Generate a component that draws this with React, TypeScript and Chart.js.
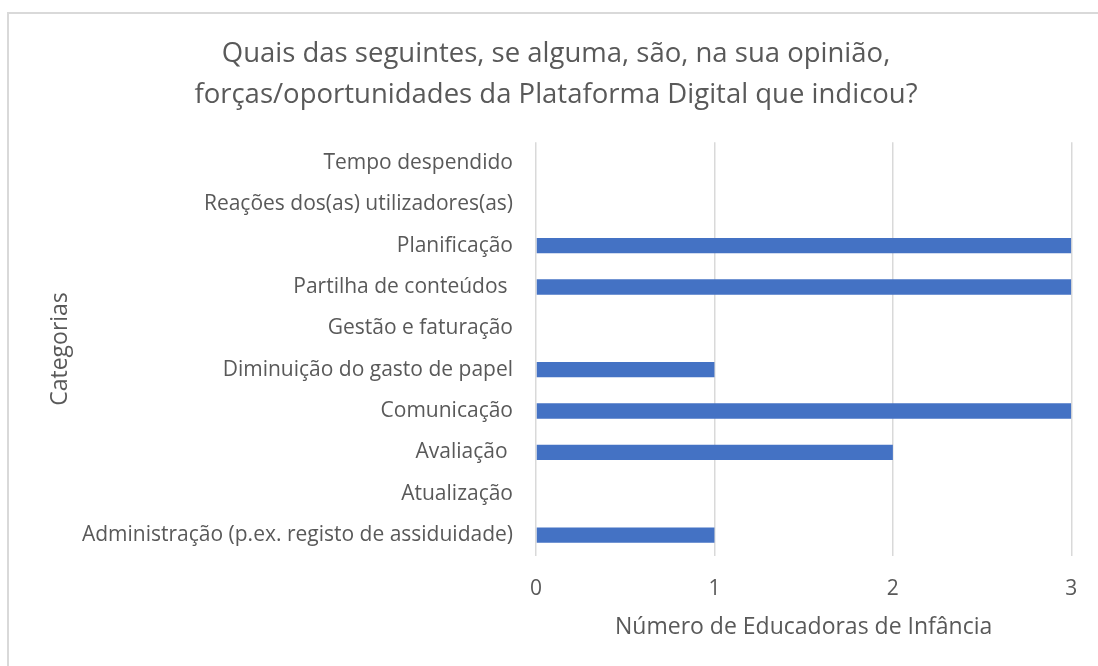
import React, { useEffect, useRef } from "react";
import { Chart, registerables } from "chart.js";

Chart.register(...registerables);

const titleLines = [
  "Quais das seguintes, se alguma, são, na sua opinião,",
  "forças/oportunidades da Plataforma Digital que indicou?",
];

const categories = [
  "Tempo despendido",
  "Reações dos(as) utilizadores(as)",
  "Planificação",
  "Partilha de conteúdos ",
  "Gestão e faturação",
  "Diminuição do gasto de papel",
  "Comunicação",
  "Avaliação ",
  "Atualização",
  "Administração (p.ex. registo de assiduidade)",
];

const counts = [0, 0, 3, 3, 0, 1, 3, 2, 0, 1];

const xTickValues = [0, 1, 2, 3];

const xAxisTitle = "Número de Educadoras de Infância";
const yAxisTitle = "Categorias";

const FONT = "'Open Sans', sans-serif";
const TEXT = "#595959";
const GRID = "#d9d9d9";
const BAR = "#4472C4";

export default function App() {
  const canvasRef = useRef<HTMLCanvasElement | null>(null);

  useEffect(() => {
    if (!canvasRef.current) return;
    const chart = new Chart(canvasRef.current, {
      type: "bar",
      data: {
        labels: categories,
        datasets: [
          {
            data: counts,
            backgroundColor: BAR,
            borderWidth: 0,
            barPercentage: 0.37,
            categoryPercentage: 1,
          },
        ],
      },
      options: {
        indexAxis: "y",
        animation: false,
        responsive: false,
        maintainAspectRatio: false,
        layout: { padding: { left: 30, right: 25, top: 0, bottom: 0 } },
        plugins: {
          legend: { display: false },
          tooltip: { enabled: false },
          title: {
            display: true,
            text: titleLines,
            color: TEXT,
            font: { family: FONT, size: 27.5, weight: "normal", lineHeight: 41 / 27.5 },
            padding: { top: 20, bottom: 26.3 },
          },
        },
        scales: {
          x: {
            min: 0,
            max: 3,
            afterBuildTicks: (scale: any) => {
              scale.ticks = xTickValues.map((v) => ({ value: v }));
            },
            afterFit: (scale: any) => {
              scale.height = 110.3;
            },
            grid: { color: GRID, lineWidth: 1.5, drawTicks: false },
            border: { display: false },
            ticks: {
              color: TEXT,
              padding: 20.7,
              font: { family: FONT, size: 21 },
            },
            title: {
              display: true,
              text: xAxisTitle,
              color: TEXT,
              font: { family: FONT, size: 23 },
              padding: { top: 0, bottom: 25.2 },
            },
          },
          y: {
            afterFit: (scale: any) => {
              scale.width = 497;
            },
            grid: { display: false, drawTicks: false },
            border: { display: false },
            ticks: {
              color: TEXT,
              padding: 23,
              autoSkip: false,
              font: { family: FONT, size: 21 },
            },
            title: {
              display: true,
              text: yAxisTitle,
              color: TEXT,
              font: { family: FONT, size: 23 },
              padding: { top: 7.2, bottom: 0 },
            },
          },
        },
      },
    });
    return () => chart.destroy();
  }, []);

  return (
    <div
      style={{
        position: "fixed",
        left: 0,
        top: 0,
        width: 1098,
        height: 666,
        overflow: "hidden",
        background: "#ffffff",
      }}
    >
      <div
        style={{
          position: "absolute",
          left: 7,
          top: 12,
          width: 1200,
          height: 800,
          borderLeft: `2px solid ${GRID}`,
          borderTop: `2px solid ${GRID}`,
        }}
      />
      <canvas
        ref={canvasRef}
        width={1089}
        height={652}
        style={{ position: "absolute", left: 9, top: 14, width: 1089, height: 652 }}
      />
    </div>
  );
}
